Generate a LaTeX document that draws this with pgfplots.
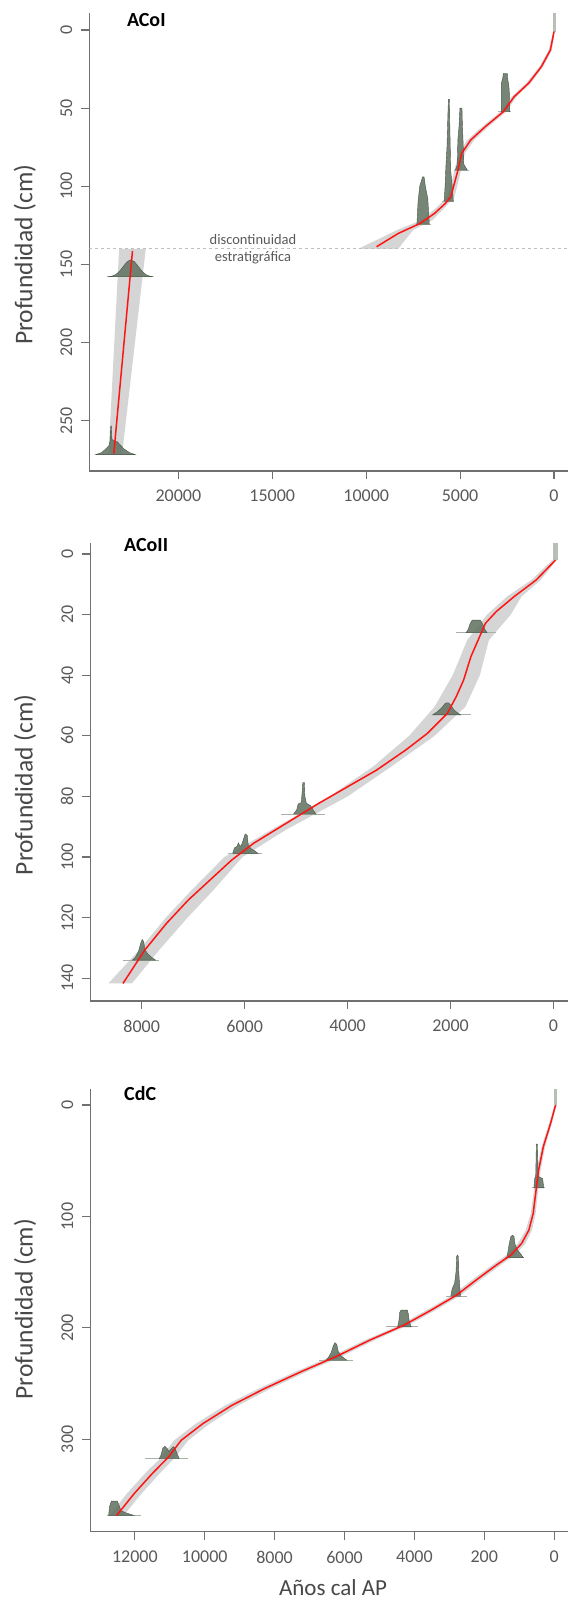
\documentclass[border=0pt]{standalone}
\usepackage{fontspec}
\setmainfont{Carlito}
\usepackage{pgfplots}
\pgfplotsset{compat=1.18}

\definecolor{axgray}{HTML}{707070}
\definecolor{tickgray}{HTML}{595959}
\definecolor{labgray}{HTML}{484848}
\definecolor{bandgray}{HTML}{D5D5D5}
\definecolor{distfill}{HTML}{5F705F}
\definecolor{distedge}{HTML}{465446}
\definecolor{distbase}{HTML}{A7B1A7}
\definecolor{agered}{HTML}{FF1414}

\pgfplotsset{
  agedepth/.style={
    scale only axis, anchor=south west, clip mode=individual,
    x dir=reverse, y dir=reverse,
    axis x line*=bottom, axis y line*=left,
    axis line style={axgray, line width=1.2pt, -},
    tick style={axgray, line width=1.2pt},
    tick align=outside, major tick length=8pt,
    scaled x ticks=false, scaled y ticks=false,
    ticklabel style={tickgray, font=\fontsize{18}{18}\selectfont},
    yticklabel style={rotate=90, anchor=south, inner sep=0pt},
    xticklabel style={anchor=north, inner sep=0pt},
    xticklabel shift=11pt, yticklabel shift=9pt,
    ylabel={Profundidad (cm)},
    every axis y label/.style={anchor=center, rotate=90},
    ylabel style={labgray, font=\fontsize{25.5}{25.5}\selectfont},
  },
  band/.style={fill=bandgray, draw=none},
  dist/.style={fill=distfill, fill opacity=0.85, draw=distedge, line width=0.4pt},
  distline/.style={distbase, line width=0.9pt},
  med/.style={agered, line width=1.5pt},
}

\begin{document}
\begin{tikzpicture}
\useasboundingbox (0,0) rectangle (568pt,1605pt);

% ---------------- ACoI
\begin{axis}[agedepth, at={(89.5pt,1134pt)}, width=478.5pt, height=458pt,
  xmin=-745, xmax=24734, ymin=-10.9, ymax=282.2,
  xtick={0,5000,10000,15000,20000}, xticklabels={0,5000,10000,15000,20000},
  ytick={0,50,100,150,200,250}, yticklabels={0,50,100,150,200,250},
  ylabel style={at={(axis description cs:-0.135,0.472)}}]
\addplot[band] coordinates {(40,1) (280,12.8) (780,23.5) (1480,34) (2260,42.7) (2860,52.3) (3830,61.9) (4620,70.4) (5080,79) (5300,89.6) (5380,93.9) (5700,106.7) (6200,113) (7040,121.6) (8350,128) (10417,140) (8295,140) (7500,128) (6470,121.6) (5770,113) (5300,106.7) (5030,93.9) (4950,89.6) (4750,79) (4250,70.4) (3500,61.9) (2540,52.3) (1990,42.7) (1230,34) (580,23.5) (110,12.8) (-40,1)} -- cycle;
\addplot[band] coordinates {(23157,140) (23720,271.7) (23000,271.7) (21736,140)} -- cycle;
\addplot[black!25, dashed, line width=1pt] coordinates {(24734,140) (-745,140)};
% dates
\addplot[dist, fill opacity=0.45, draw=none] coordinates {(40,1) (40,-10.9) (-80,-10.9) (-80,1)} -- cycle;
\addplot[distline] coordinates {(2990,52.3) (2315,52.3)};
\addplot[dist] coordinates {(2800,52.3) (2800,34) (2720,30) (2700,27.7) (2490,27.7) (2470,31) (2400,36) (2380,40) (2360,52.3)} -- cycle;
\addplot[distline] coordinates {(5305,89.6) (4533,89.6)};
\addplot[dist] coordinates {(5250,89.6) (5150,86) (5120,70) (5060,62) (5010,50) (4900,50) (4880,60) (4840,72) (4800,86) (4620,89.6)} -- cycle;
\addplot[distline] coordinates {(5941,109.5) (5305,109.5)};
\addplot[dist] coordinates {(5850,109.5) (5800,100) (5760,88) (5700,75) (5640,50) (5620,44.4) (5570,44.4) (5550,60) (5500,90) (5420,100) (5360,109.5)} -- cycle;
\addplot[distline] coordinates {(7330,124.2) (6560,124.2)};
\addplot[dist] coordinates {(7300,124.2) (7240,110) (7150,100) (7000,94) (6920,94) (6850,100) (6720,108) (6640,124.2)} -- cycle;
\addplot[distline] coordinates {(23818,158) (21422,158)};
\addplot[dist] coordinates {(23735,157.9) (23535,157.5) (23335,156.5) (23135,154.4) (22935,151.3) (22735,148.3) (22535,147) (22335,148.3) (22135,151.3) (21935,154.4) (21735,156.5) (21535,157.5) (21335,157.9)} -- cycle;
\addplot[distline] coordinates {(24410,271.7) (22290,271.7)};
\addplot[dist] coordinates {(24400,271.7) (24100,270.5) (23900,268.5) (23700,266) (23640,263) (23610,254) (23570,253.5) (23540,262) (23400,263) (23250,263.5) (23100,265.5) (22900,268) (22600,270.5) (22300,271.7)} -- cycle;
% median
\addplot[med] coordinates {(0,1) (193,12.8) (675,23.5) (1350,34) (2122,42.7) (2700,52.3) (3665,61.9) (4437,70.4) (4919,79) (5112,89.6) (5208,93.9) (5498,106.7) (5787,111) (6366,117.4) (7137,123.8) (8295,130.2) (9450,138.7)};
\addplot[med] coordinates {(22444,141.3) (23440,271)};
\node[tickgray, font=\fontsize{14.5}{14.5}\selectfont] at (axis cs:16027,134) {discontinuidad};
\node[tickgray, font=\fontsize{14.5}{14.5}\selectfont] at (axis cs:16027,145.5) {estratigráfica};
\node[anchor=west, inner sep=0pt, font=\bfseries\fontsize{20}{20}\selectfont] at (axis cs:22747,-6.4) {ACoI};
\end{axis}

% ---------------- ACoII
\begin{axis}[agedepth, at={(90.5pt,604pt)}, width=477.5pt, height=457.7pt,
  xmin=-282, xmax=8995, ymin=-3.53, ymax=147.5,
  xtick={0,2000,4000,6000,8000}, xticklabels={0,2000,4000,6000,8000},
  ytick={0,20,40,60,80,100,120,140}, yticklabels={0,20,40,60,80,100,120,140},
  ylabel style={at={(axis description cs:-0.137,0.472)}}]
\addplot[band] coordinates {(20,2) (430,8.6) (900,14) (1290,20) (1676,28.4) (1958,40) (2310,50.4) (2803,60) (3507,70.2) (4352,80) (5479,91) (6394,100) (7028,110.9) (7521,119.8) (8050,130.7) (8648,141.7) (8190,141.7) (7662,130.7) (7099,119.8) (6606,110.9) (6042,100) (5197,91) (4000,80) (3155,70.2) (2310,60) (1711,50.4) (1430,40) (1254,28.4) (830,20) (620,14) (250,8.6) (-60,2)} -- cycle;
\addplot[dist, fill opacity=0.45, draw=none] coordinates {(10,2) (10,-3.53) (-90,-3.53) (-90,2)} -- cycle;
\addplot[distline] coordinates {(1901,26) (1113,26)};
\addplot[dist] coordinates {(1700,26) (1660,25) (1620,23) (1580,21.8) (1420,21.8) (1380,23) (1330,25) (1290,26)} -- cycle;
\addplot[distline] coordinates {(2345,53.1) (1606,53.1)};
\addplot[dist] coordinates {(2350,53.1) (2250,52) (2160,50.5) (2100,49.2) (2040,49.1) (1990,50) (1930,51.5) (1850,52.6) (1800,53.1)} -- cycle;
\addplot[distline] coordinates {(5303,85.8) (4444,85.8)};
\addplot[dist] coordinates {(5050,85.8) (4990,84.5) (4960,82.5) (4900,82) (4880,78) (4870,75.4) (4840,75.4) (4830,80) (4800,82.3) (4720,83) (4650,85) (4610,85.8)} -- cycle;
\addplot[distline] coordinates {(6324,98.8) (5655,98.8)};
\addplot[dist] coordinates {(6230,98.8) (6200,97) (6150,96.5) (6120,95.3) (6090,96.5) (6060,96) (6020,94) (5990,92.4) (5950,92.8) (5930,96) (5880,97.2) (5800,98) (5740,98.8)} -- cycle;
\addplot[distline] coordinates {(8366,134) (7662,134)};
\addplot[dist] coordinates {(8180,134) (8120,133) (8060,131) (8020,128.5) (7990,127.2) (7960,128) (7940,130.5) (7880,132) (7800,133.2) (7730,134)} -- cycle;
\addplot[med] coordinates {(-40,2) (338,8.6) (760,14) (1112,19) (1323,22.9) (1464,28.4) (1605,33.9) (1746,41.6) (1887,47) (2063,52.6) (2450,59.2) (2872,64.7) (3436,71.3) (3999,76.8) (4562,82.3) (4984,86.7) (5407,91.1) (5829,95.5) (6252,101) (6674,107.6) (7096,114.2) (7519,121.9) (7941,130.7) (8364,141.7)};
\node[anchor=west, inner sep=0pt, font=\bfseries\fontsize{20}{20}\selectfont] at (axis cs:8344,-3.0) {ACoII};
\end{axis}

% ---------------- CdC
\begin{axis}[agedepth, at={(90.5pt,73.3pt)}, width=477.5pt, height=442.4pt,
  xmin=-395, xmax=13268, ymin=-14.1, ymax=382.9,
  xtick={0,2000,4000,6000,8000,10000,12000}, xticklabels={0,200,4000,6000,8000,10000,12000},
  ytick={0,100,200,300}, yticklabels={0,100,200,300},
  ylabel style={at={(axis description cs:-0.137,0.503)}},
  xlabel={Años cal AP},
  every axis x label/.style={at={(axis description cs:0.508,0)}, anchor=center, yshift=-56pt},
  xlabel style={labgray, font=\fontsize{23}{23}\selectfont}]
\addplot[band] coordinates {(-10,0) (144,16.5) (361,37.4) (506,58.4) (578,76.3) (671,97.3) (815,112.3) (1043,124.3) (1364,134.7) (1778,143.7) (2296,155.7) (2918,170.7) (3653,184.1) (4431,197.6) (5425,211.1) (6368,225.4) (7414,239.5) (8460,254.5) (9413,269.5) (10252,285.9) (10874,300.9) (11237,315.9) (11713,330.8) (12231,348.8) (12718,368.3) (12318,368.3) (11811,348.8) (11293,330.8) (10837,315.9) (10474,300.9) (9852,285.9) (9033,269.5) (8120,254.5) (7094,239.5) (6068,225.4) (5145,211.1) (4171,197.6) (3393,184.1) (2678,170.7) (2056,155.7) (1538,143.7) (1124,134.7) (823,124.3) (635,112.3) (531,97.3) (458,76.3) (386,58.4) (261,37.4) (64,16.5) (-70,0)} -- cycle;
\addplot[dist, fill opacity=0.45, draw=none] coordinates {(10,0) (10,-14.1) (-90,-14.1) (-90,0)} -- cycle;
\addplot[distline] coordinates {(640,74.3) (270,74.3)};
\addplot[dist] coordinates {(580,74.3) (560,66) (530,64) (520,50) (510,35) (480,35) (470,50) (460,64) (330,66) (300,74.3)} -- cycle;
\addplot[distline] coordinates {(1400,137.1) (860,137.1)};
\addplot[dist] coordinates {(1360,137.1) (1330,133) (1290,125) (1240,118) (1190,116.8) (1150,118) (1120,125) (1050,130) (950,134) (880,137.1)} -- cycle;
\addplot[distline] coordinates {(3100,171.6) (2500,171.6)};
\addplot[dist] coordinates {(2960,171.6) (2920,165) (2850,160) (2810,150) (2790,136) (2770,134.7) (2740,136) (2730,150) (2710,160) (2680,171.6)} -- cycle;
\addplot[distline] coordinates {(4819,199.1) (3886,199.1)};
\addplot[dist] coordinates {(4480,199.1) (4440,193) (4420,186) (4380,184.1) (4200,184.1) (4170,188) (4150,194) (4090,199.1)} -- cycle;
\addplot[distline] coordinates {(6736,229) (5751,229)};
\addplot[dist] coordinates {(6530,229) (6450,226) (6380,222) (6320,216) (6270,213.2) (6220,215) (6180,221) (6100,225) (6000,227.5) (5930,229)} -- cycle;
\addplot[distline] coordinates {(11710,317.4) (10467,317.4)};
\addplot[dist] coordinates {(11300,317.4) (11250,314) (11200,308) (11140,306.3) (11080,308) (11020,311) (10960,308.5) (10900,306.5) (10850,308) (10800,312) (10730,317.4)} -- cycle;
\addplot[distline] coordinates {(12798,368.3) (11814,368.3)};
\addplot[dist] coordinates {(12750,368.3) (12720,360) (12670,355.4) (12500,355.5) (12440,360) (12400,364) (12250,366) (12100,367.5) (12020,368.3)} -- cycle;
\addplot[med] coordinates {(-40,0) (104,16.5) (311,37.4) (446,58.4) (518,76.3) (601,97.3) (725,112.3) (933,124.3) (1244,134.7) (1658,143.7) (2176,155.7) (2798,170.7) (3523,184.1) (4301,197.6) (5285,211.1) (6218,225.4) (7254,239.5) (8290,254.5) (9223,269.5) (10052,285.9) (10674,300.9) (11037,315.9) (11503,330.8) (12021,348.8) (12518,368.3)};
\node[anchor=west, inner sep=0pt, font=\bfseries\fontsize{20}{20}\selectfont] at (axis cs:12309,-9.9) {CdC};
\end{axis}
\end{tikzpicture}
\end{document}
